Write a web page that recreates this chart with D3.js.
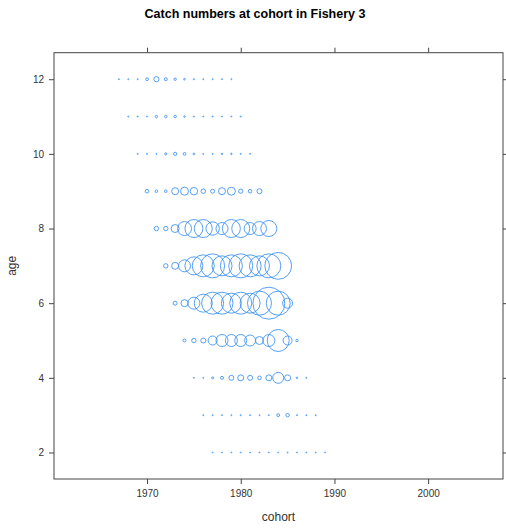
<!DOCTYPE html>
<html>
<head>
<meta charset="utf-8">
<script src="https://cdn.jsdelivr.net/npm/d3@7"></script>
<style>
  html, body { margin: 0; padding: 0; background: #fff; }
  svg { display: block; }
  text { font-family: "Liberation Sans", Arial, sans-serif; }
</style>
</head>
<body>
<svg id="chart" width="506" height="530"></svg>
<script>
// ---- data (catch numbers) ----
const ages = [12, 11, 10, 9, 8, 7, 6, 5, 4, 3, 2];
const years = [1979,1980,1981,1982,1983,1984,1985,1986,1987,1988,1989,1990,1991]; // cohort = year - age
const catchAge12 = [6, 6, 6, 39, 135, 45, 29, 15, 8, 6, 6, 6, 6];
const catchAge11 = [6, 6, 6, 30, 30, 30, 12, 6, 6, 6, 6, 6, 6];
const catchAge10 = [6, 6, 6, 25, 51, 39, 15, 6, 6, 12, 12, 6, 6];
const catchAge9  = [65, 34, 34, 245, 320, 280, 105, 80, 245, 320, 90, 65, 125];
const catchAge8  = [97, 97, 320, 980, 1620, 1620, 900, 720, 1620, 1620, 720, 980, 1280];
const catchAge7  = [97, 245, 720, 1620, 2420, 2880, 2000, 2420, 2880, 2420, 2000, 2880, 3600];
const catchAge6  = [80, 245, 720, 1620, 2420, 2420, 2000, 2420, 2000, 2880, 5120, 2880, 500];
const catchAge5  = [45, 97, 125, 405, 720, 720, 720, 605, 320, 720, 2420, 405, 29];
const catchAge4  = [6, 6, 20, 45, 125, 180, 125, 65, 180, 605, 180, 12, 6];
const catchAge3  = [6, 6, 6, 6, 6, 6, 6, 6, 40, 60, 6, 6, 6];
const catchAge2  = [5, 5, 5, 5, 5, 5, 5, 5, 5, 5, 5, 5, 5];
const catchByAge = [catchAge12, catchAge11, catchAge10, catchAge9, catchAge8, catchAge7,
                    catchAge6, catchAge5, catchAge4, catchAge3, catchAge2];
const xTicks = [1970, 1980, 1990, 2000];
const yTicks = [2, 4, 6, 8, 10, 12];

const points = [];
ages.forEach((a, i) => {
  years.forEach((yr, j) => {
    points.push({ age: a, cohort: yr - a, value: catchByAge[i][j] });
  });
});

// ---- layout ----
const svg = d3.select("#chart");
const pL = 54, pR = 503, pT = 52.7, pB = 479;
const x = d3.scaleLinear().domain([1960.07, 2007.99]).range([pL, pR]);
const y = d3.scaleLinear().domain([1.29, 12.71]).range([pB, pT]);
const rScale = d3.scaleSqrt().domain([0, 5120]).range([0, 16]);

const axisCol = "#444";

// title
svg.append("text")
  .attr("x", 255).attr("y", 18)
  .attr("text-anchor", "middle")
  .attr("font-size", 12.5).attr("font-weight", "bold")
  .attr("fill", "#000")
  .text("Catch numbers at cohort in Fishery 3");

// axes
const gBottom = svg.append("g").attr("transform", `translate(0,${pB})`)
  .call(d3.axisBottom(x).tickValues(xTicks).tickFormat(d3.format("d")).tickSize(5).tickPadding(6));
const gTop = svg.append("g").attr("transform", `translate(0,${pT})`)
  .call(d3.axisTop(x).tickValues(xTicks).tickFormat("").tickSize(5));
const gLeft = svg.append("g").attr("transform", `translate(${pL},0)`)
  .call(d3.axisLeft(y).tickValues(yTicks).tickSize(5).tickPadding(5));
const gRight = svg.append("g").attr("transform", `translate(${pR},0)`)
  .call(d3.axisRight(y).tickValues(yTicks).tickFormat("").tickSize(5));
[gBottom, gTop, gLeft, gRight].forEach(g => {
  g.select(".domain").remove();
  g.selectAll(".tick line").attr("stroke", axisCol);
  g.selectAll(".tick text").attr("fill", "#333").attr("font-size", 10)
    .attr("font-family", "'Liberation Sans', Arial, sans-serif");
});

// panel border
svg.append("rect")
  .attr("x", pL).attr("y", pT).attr("width", pR - pL).attr("height", pB - pT)
  .attr("fill", "none").attr("stroke", axisCol).attr("stroke-width", 1);

// axis labels
svg.append("text")
  .attr("x", (pL + pR) / 2).attr("y", 521)
  .attr("text-anchor", "middle").attr("font-size", 12).attr("fill", "#333")
  .text("cohort");
svg.append("text")
  .attr("transform", `translate(16,${(pT + pB) / 2}) rotate(-90)`)
  .attr("text-anchor", "middle").attr("font-size", 12).attr("fill", "#333")
  .text("age");

// bubbles
svg.append("g").selectAll("circle")
  .data(points)
  .join("circle")
  .attr("cx", d => x(d.cohort))
  .attr("cy", d => y(d.age))
  .attr("r", d => rScale(d.value))
  .attr("fill", "none")
  .attr("stroke", "#3a8ff0")
  .attr("stroke-opacity", 0.85)
  .attr("stroke-width", 1);
</script>
</body>
</html>
